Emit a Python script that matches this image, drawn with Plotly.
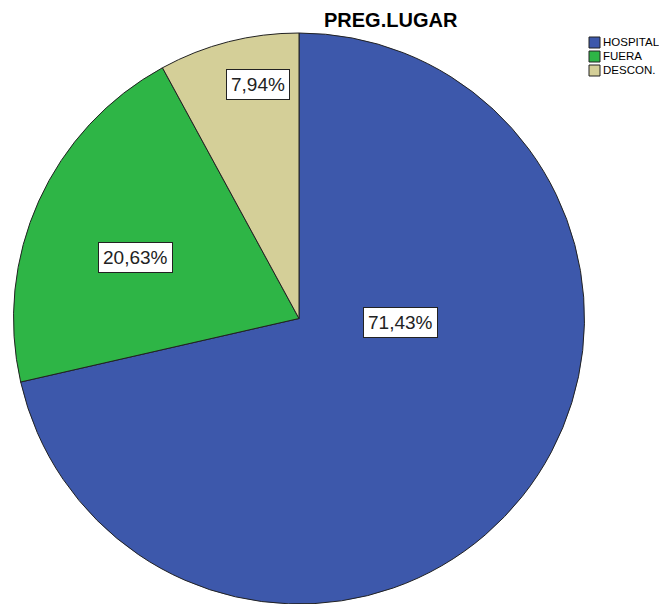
import plotly.graph_objects as go

labels = ["HOSPITAL", "FUERA", "DESCON."]
counts = [45, 13, 5]
pct_text = ["71,43%", "20,63%", "7,94%"]
colors = ["#3D58AB", "#2EB546", "#D4CF98"]

# page body adds an 8px margin; size the figure so the picture lines up
OFF = 8
W, H = 667 - OFF, 604 - OFF

def px(x, y):
    return (x - OFF) / W, 1 - (y - OFF) / H

fig = go.Figure()
d0x, d0y = px(13, 604)
d1x, d1y = px(585, 33)
fig.add_trace(go.Pie(
    labels=labels, values=counts, sort=False, direction="clockwise", rotation=0,
    marker=dict(colors=colors, line=dict(color="#222222", width=1)),
    textinfo="none", hoverinfo="label+percent", showlegend=False,
    domain=dict(x=[d0x, d1x], y=[max(d0y, 0), d1y]),
))

annotations = []
label_pos = [(400, 322), (135, 257), (258, 84)]
for t, (x, y) in zip(pct_text, label_pos):
    ax, ay = px(x, y)
    annotations.append(dict(
        x=ax, y=ay, xref="paper", yref="paper", text=t, showarrow=False,
        xanchor="center", yanchor="middle",
        font=dict(family="Liberation Sans, Arial", size=19, color="#222222"),
        bgcolor="white", bordercolor="#222222", borderwidth=1, borderpad=4,
    ))

# title
tx, ty = px(391, 20)
annotations.append(dict(
    x=tx, y=ty, xref="paper", yref="paper", text="<b>PREG.LUGAR</b>", showarrow=False,
    xanchor="center", yanchor="middle",
    font=dict(family="Liberation Sans, Arial", size=20, color="#000000"),
))

# manual legend
shapes = []
leg_y = [42, 56, 70]
for lab, col, y in zip(labels, colors, leg_y):
    x0, y0 = px(589, y - 5)
    x1, y1 = px(600, y + 6)
    shapes.append(dict(type="rect", xref="paper", yref="paper", x0=x0, x1=x1, y0=y1, y1=y0,
                       fillcolor=col, line=dict(color="#222222", width=1)))
    lx, ly = px(601, y)
    annotations.append(dict(
        x=lx, y=ly, xref="paper", yref="paper", text=lab, showarrow=False,
        xanchor="left", yanchor="middle",
        font=dict(family="Liberation Sans, Arial", size=11.5, color="#000000"),
    ))

fig.update_layout(
    width=W, height=H, margin=dict(l=0, r=0, t=0, b=0),
    paper_bgcolor="white", plot_bgcolor="white",
    annotations=annotations, shapes=shapes,
)

fig.write_html("out.html")
